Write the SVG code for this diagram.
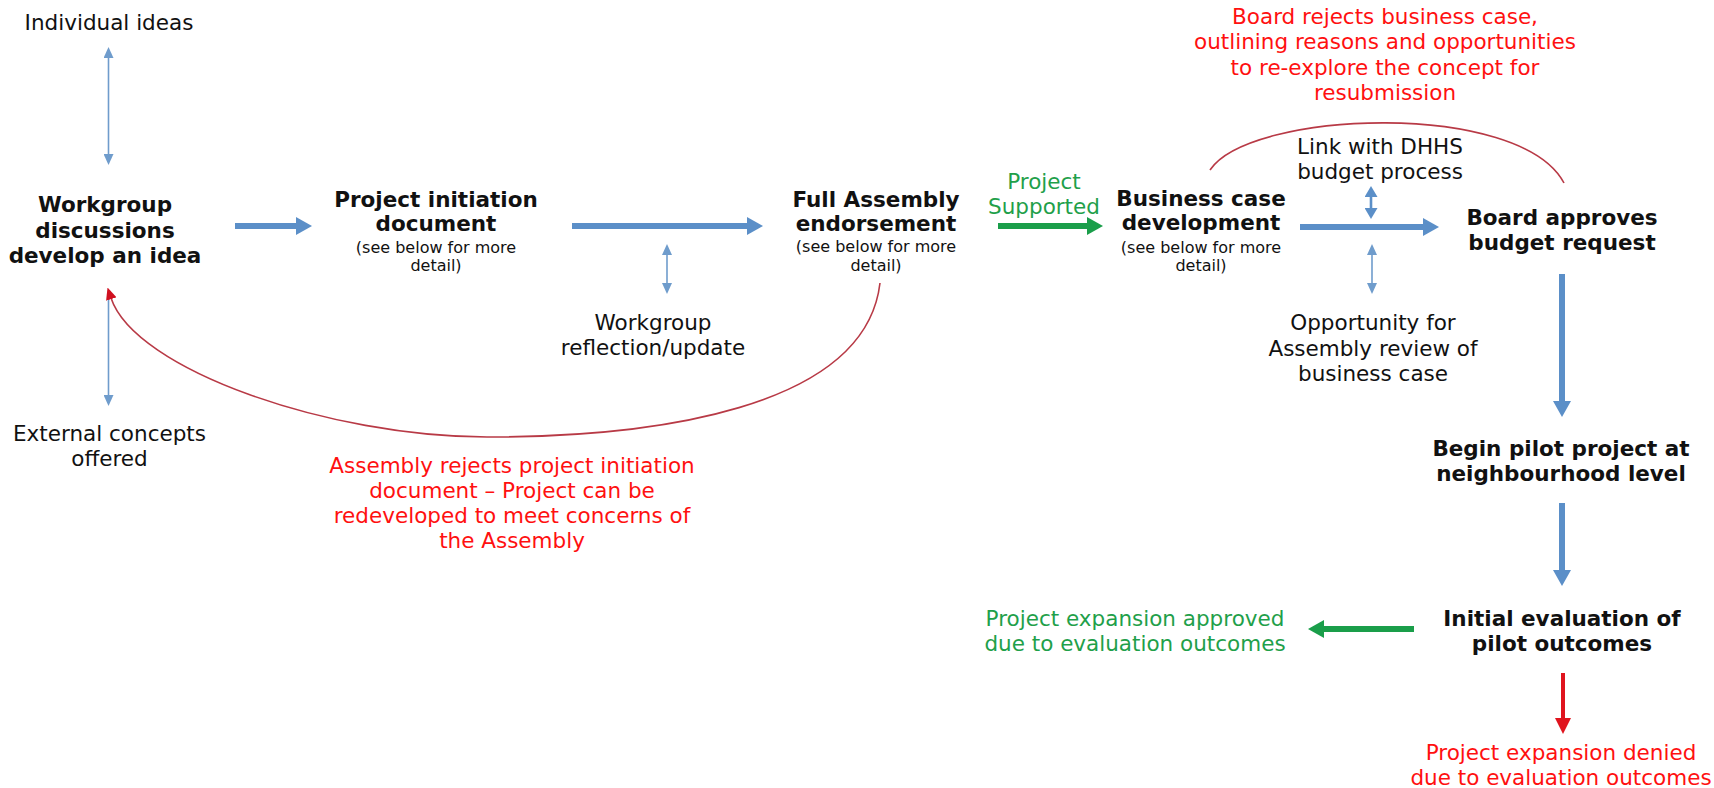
<svg xmlns="http://www.w3.org/2000/svg" width="1714" height="788" viewBox="0 0 1714 788">
<style>
text{font-family:"DejaVu Sans","Verdana",sans-serif;font-size:21.5px;fill:#111;text-anchor:middle}
.b{font-weight:bold}
.s{font-size:16px}
.red{fill:#ff1010}
.grn{fill:#1fa04a}
.thick{stroke:#5b8fc8;stroke-width:6;fill:none}
.thin{stroke:#6f9ccc;stroke-width:1.6;fill:none}
.mid{stroke:#5b8fc8;stroke-width:2.6;fill:none}
.gthick{stroke:#1a9e4a;stroke-width:6;fill:none}
.rthick{stroke:#e0141e;stroke-width:4;fill:none}
.rcurve{stroke:#b83a46;stroke-width:1.6;fill:none}
</style>
<defs>
<marker id="hb" markerUnits="userSpaceOnUse" markerWidth="16" markerHeight="18" viewBox="0 0 16 18" refX="1" refY="9" orient="auto"><path d="M0,0 L16,9 L0,18 z" fill="#5b8fc8"/></marker>
<marker id="hg" markerUnits="userSpaceOnUse" markerWidth="16" markerHeight="18" viewBox="0 0 16 18" refX="1" refY="9" orient="auto"><path d="M0,0 L16,9 L0,18 z" fill="#1a9e4a"/></marker>
<marker id="hr" markerUnits="userSpaceOnUse" markerWidth="16" markerHeight="16" viewBox="0 0 16 16" refX="1" refY="8" orient="auto"><path d="M0,0 L16,8 L0,16 z" fill="#e0141e"/></marker>
<marker id="ht" markerUnits="userSpaceOnUse" markerWidth="11" markerHeight="10" viewBox="0 0 11 10" refX="1" refY="5" orient="auto-start-reverse"><path d="M0,0 L11,5 L0,10 z" fill="#6f9ccc"/></marker>
<marker id="hm" markerUnits="userSpaceOnUse" markerWidth="11" markerHeight="13" viewBox="0 0 11 13" refX="1" refY="6.5" orient="auto-start-reverse"><path d="M0,0 L11,6.5 L0,13 z" fill="#5b8fc8"/></marker>
<marker id="hrc" markerUnits="userSpaceOnUse" markerWidth="12" markerHeight="11" viewBox="0 0 12 11" refX="1" refY="5.5" orient="auto"><path d="M0,0 L12,5.5 L0,11 z" fill="#d01020"/></marker>
</defs>

<g id="connectors">
<line class="thin" x1="108.5" y1="57" x2="108.5" y2="155" marker-start="url(#ht)" marker-end="url(#ht)"/>
<line class="thin" x1="108.5" y1="296" x2="108.5" y2="396" marker-end="url(#ht)"/>
<line class="thick" x1="235" y1="226" x2="297" y2="226" marker-end="url(#hb)"/>
<line class="thick" x1="572" y1="226" x2="748" y2="226" marker-end="url(#hb)"/>
<line class="thin" x1="667" y1="254" x2="667" y2="284" marker-start="url(#ht)" marker-end="url(#ht)"/>
<line class="gthick" x1="998" y1="226" x2="1088" y2="226" marker-end="url(#hg)"/>
<line class="thick" x1="1300" y1="227" x2="1424" y2="227" marker-end="url(#hb)"/>
<line class="mid" x1="1371" y1="196" x2="1371" y2="209" marker-start="url(#hm)" marker-end="url(#hm)"/>
<line class="thin" x1="1372" y1="254" x2="1372" y2="284" marker-start="url(#ht)" marker-end="url(#ht)"/>
<line class="thick" x1="1562" y1="274" x2="1562" y2="402" marker-end="url(#hb)"/>
<line class="thick" x1="1562" y1="503" x2="1562" y2="571" marker-end="url(#hb)"/>
<line class="gthick" x1="1414" y1="629" x2="1323" y2="629" marker-end="url(#hg)"/>
<line class="rthick" x1="1563" y1="673" x2="1563" y2="719" marker-end="url(#hr)"/>
<path class="rcurve" d="M880,283 C865,410 650,437 487,437 C330,437 135,370 111,298" marker-end="url(#hrc)"/>
<path class="rcurve" d="M1210,170 C1250,110 1520,100 1564,183"/>
</g>

<g id="n-individual"><text x="109" y="30">Individual ideas</text></g>
<g id="n-workgroup"><text class="b" x="105"><tspan x="105" y="212">Workgroup</tspan><tspan x="105" y="237.5">discussions</tspan><tspan x="105" y="263">develop an idea</tspan></text></g>
<g id="n-external"><text x="109.5"><tspan x="109.5" y="441">External concepts</tspan><tspan x="109.5" y="466">offered</tspan></text></g>
<g id="n-pid"><text class="b" x="436"><tspan x="436" y="207">Project initiation</tspan><tspan x="436" y="231">document</tspan></text><text class="s" x="436"><tspan x="436" y="252.5">(see below for more</tspan><tspan x="436" y="271">detail)</tspan></text></g>
<g id="n-reflection"><text x="653"><tspan x="653" y="330">Workgroup</tspan><tspan x="653" y="355">reflection/update</tspan></text></g>
<g id="n-assembly-reject"><text class="red" x="512"><tspan x="512" y="473">Assembly rejects project initiation</tspan><tspan x="512" y="498">document – Project can be</tspan><tspan x="512" y="523">redeveloped to meet concerns of</tspan><tspan x="512" y="548">the Assembly</tspan></text></g>
<g id="n-fa"><text class="b" x="876"><tspan x="876" y="207">Full Assembly</tspan><tspan x="876" y="231">endorsement</tspan></text><text class="s" x="876"><tspan x="876" y="252">(see below for more</tspan><tspan x="876" y="271">detail)</tspan></text></g>
<g id="n-supported"><text class="grn" x="1044"><tspan x="1044" y="188.5">Project</tspan><tspan x="1044" y="213.5">Supported</tspan></text></g>
<g id="n-bcd"><text class="b" x="1201"><tspan x="1201" y="206">Business case</tspan><tspan x="1201" y="230">development</tspan></text><text class="s" x="1201"><tspan x="1201" y="252.5">(see below for more</tspan><tspan x="1201" y="271">detail)</tspan></text></g>
<g id="n-board-reject"><text class="red" x="1385"><tspan x="1385" y="23.5">Board rejects business case,</tspan><tspan x="1385" y="49">outlining reasons and opportunities</tspan><tspan x="1385" y="74.5">to re-explore the concept for</tspan><tspan x="1385" y="100">resubmission</tspan></text></g>
<g id="n-dhhs"><text x="1380"><tspan x="1380" y="153.5">Link with DHHS</tspan><tspan x="1380" y="178.5">budget process</tspan></text></g>
<g id="n-opportunity"><text x="1373"><tspan x="1373" y="330">Opportunity for</tspan><tspan x="1373" y="355.5">Assembly review of</tspan><tspan x="1373" y="380.5">business case</tspan></text></g>
<g id="n-board"><text class="b" x="1562"><tspan x="1562" y="225">Board approves</tspan><tspan x="1562" y="250">budget request</tspan></text></g>
<g id="n-pilot"><text class="b" x="1561"><tspan x="1561" y="456">Begin pilot project at</tspan><tspan x="1561" y="480.5">neighbourhood level</tspan></text></g>
<g id="n-eval"><text class="b" x="1562"><tspan x="1562" y="626">Initial evaluation of</tspan><tspan x="1562" y="650.5">pilot outcomes</tspan></text></g>
<g id="n-approved"><text class="grn" x="1135"><tspan x="1135" y="626">Project expansion approved</tspan><tspan x="1135" y="650.5">due to evaluation outcomes</tspan></text></g>
<g id="n-denied"><text class="red" x="1561"><tspan x="1561" y="760">Project expansion denied</tspan><tspan x="1561" y="785">due to evaluation outcomes</tspan></text></g>
</svg>
